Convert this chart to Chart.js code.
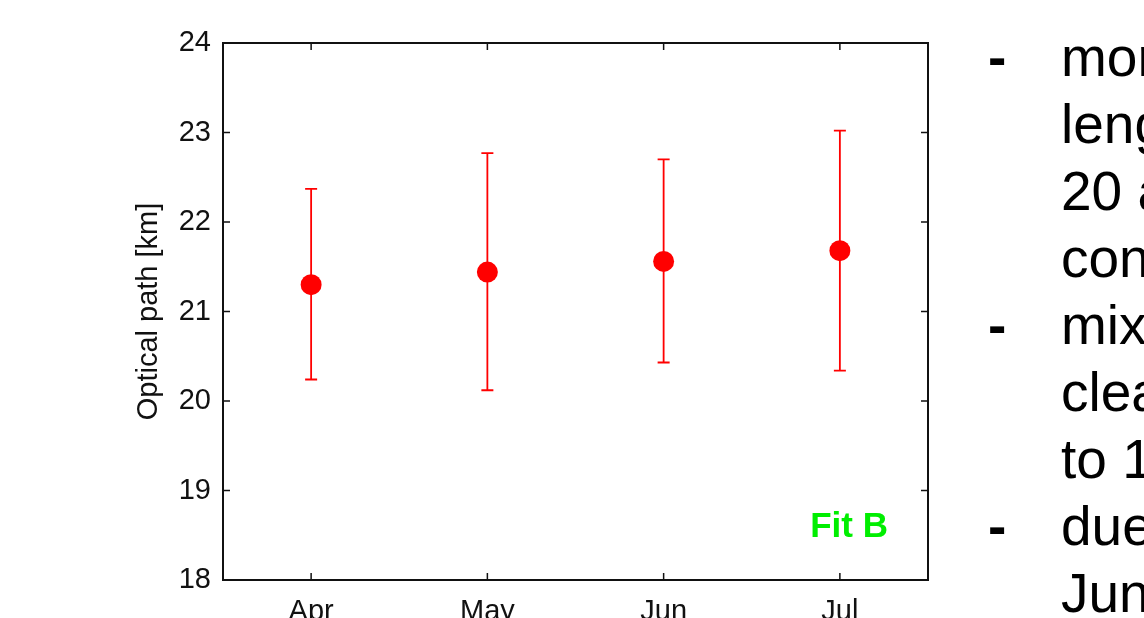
<!DOCTYPE html>
<html>
<head>
<meta charset="utf-8">
<title>Optical path</title>
<script src="https://cdn.jsdelivr.net/npm/chart.js@4"></script>
<style>
  html, body { margin: 0; padding: 0; background: #fff; overflow: hidden; }
  #wrap { position: relative; width: 1144px; height: 618px; overflow: hidden; }
  #notes {
    position: absolute; left: 0; top: 24px; width: 1144px;
    font-family: "Liberation Sans", Arial, sans-serif; font-size: 55px;
    line-height: 67px; color: #000; white-space: nowrap;
  }
  #notes .row { position: relative; height: 67px; }
  #notes .dash { position: absolute; left: 988px; font-weight: bold; }
  #notes .txt { position: absolute; left: 1061px; }
</style>
</head>
<body>
<div id="wrap">
  <canvas id="myChart"></canvas>
  <div id="notes"></div>
</div>
<script>
// monthly fit results
const months = ["Apr", "May", "Jun", "Jul"];
const pathKm = [21.30, 21.44, 21.56, 21.68];
const errLow = [20.24, 20.12, 20.43, 20.34];
const errHigh = [22.37, 22.77, 22.70, 23.02];
const yMin = 18;
const yMax = 24;

// side notes (run off the slide edge)
const noteLines = [
  ["-", "more"], ["", "length"], ["", "20 and"], ["", "cons"],
  ["-", "mixed"], ["", "clear"], ["", "to 10"], ["-", "due"], ["", "June"],
];

const notes = document.getElementById("notes");
noteLines.forEach(([dash, txt]) => {
  const row = document.createElement("div");
  row.className = "row";
  row.innerHTML = '<span class="dash">' + dash + '</span><span class="txt">' + txt + "</span>";
  notes.appendChild(row);
});

const FONT = '"Liberation Sans", Arial, sans-serif';

// vertical error bars with caps, drawn under the markers
const errorBars = {
  id: "errorBars",
  beforeDatasetsDraw(chart) {
    const { ctx, scales: { x, y } } = chart;
    ctx.save();
    ctx.strokeStyle = "#ff0000";
    ctx.lineWidth = 1.8;
    months.forEach((m, i) => {
      const px = x.getPixelForValue(i);
      const lo = y.getPixelForValue(errLow[i]);
      const hi = y.getPixelForValue(errHigh[i]);
      ctx.beginPath();
      ctx.moveTo(px, lo); ctx.lineTo(px, hi);
      ctx.moveTo(px - 6, lo); ctx.lineTo(px + 6, lo);
      ctx.moveTo(px - 6, hi); ctx.lineTo(px + 6, hi);
      ctx.stroke();
    });
    ctx.restore();
  },
};

// box frame with inward ticks on all four sides, plus the fit tag
const boxFrame = {
  id: "boxFrame",
  afterDraw(chart) {
    const { ctx, chartArea: a, scales: { x, y } } = chart;
    const tl = 7;
    ctx.save();
    ctx.strokeStyle = "#111";
    ctx.lineWidth = 1.5;
    ctx.beginPath();
    y.ticks.forEach((t) => {
      const py = y.getPixelForValue(t.value);
      ctx.moveTo(a.left, py); ctx.lineTo(a.left + tl, py);
      ctx.moveTo(a.right, py); ctx.lineTo(a.right - tl, py);
    });
    x.ticks.forEach((t, i) => {
      const px = x.getPixelForTick(i);
      ctx.moveTo(px, a.bottom); ctx.lineTo(px, a.bottom - tl);
      ctx.moveTo(px, a.top); ctx.lineTo(px, a.top + tl);
    });
    ctx.stroke();
    ctx.lineWidth = 2;
    ctx.strokeRect(a.left, a.top, a.right - a.left, a.bottom - a.top);

    ctx.fillStyle = "#00ee00";
    ctx.font = "bold 35px " + FONT;
    ctx.textAlign = "right";
    ctx.textBaseline = "alphabetic";
    ctx.fillText("Fit B", a.right - 40, a.bottom - 43);
    ctx.restore();
  },
};

new Chart(document.getElementById("myChart"), {
  type: "line",
  data: {
    labels: months,
    datasets: [
      {
        label: "Optical path",
        data: pathKm,
        showLine: false,
        pointRadius: 10.5,
        pointHoverRadius: 10.5,
        pointBackgroundColor: "#ff0000",
        pointBorderWidth: 0,
      },
    ],
  },
  options: {
    responsive: true,
    maintainAspectRatio: false,
    animation: false,
    layout: { padding: { left: 116, top: 43, right: 216, bottom: 0 } },
    plugins: { legend: { display: false }, tooltip: { enabled: false } },
    scales: {
      x: {
        type: "category",
        offset: true,
        grid: { display: false, drawTicks: false },
        border: { display: false },
        ticks: { color: "#111", font: { family: FONT, size: 29 }, padding: 15 },
        afterFit: (scale) => { scale.height = 38; },
      },
      y: {
        min: yMin,
        max: yMax,
        grid: { display: false, drawTicks: false },
        border: { display: false },
        ticks: { stepSize: 1, color: "#111", font: { family: FONT, size: 29 }, padding: 12 },
        title: {
          display: true,
          text: "Optical path [km]",
          color: "#111",
          font: { family: FONT, size: 29 },
          padding: { top: 16, bottom: 0 },
        },
        afterFit: (scale) => { scale.width = 107; },
      },
    },
  },
  plugins: [errorBars, boxFrame],
});
</script>
</body>
</html>
